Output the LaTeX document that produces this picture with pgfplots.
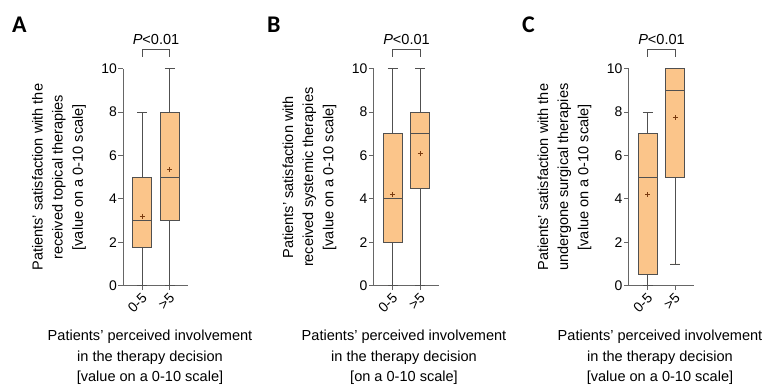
\documentclass[border=0pt]{standalone}
\usepackage{fontspec}
\setmainfont{Liberation Sans}
\newfontfamily\letterfont{Carlito}
\usepackage{pgfplots}
\usepgfplotslibrary{statistics}
\pgfplotsset{compat=1.18}
\definecolor{boxfill}{HTML}{FBC58A}
\definecolor{edge}{HTML}{505050}
\definecolor{axisgray}{HTML}{666666}
\definecolor{meanc}{HTML}{7A3B10}
\newcommand{\lblfont}{\fontsize{14.6}{20.2}\selectfont}
\pgfplotsset{
  panel/.style={
    scale only axis, width=65.2bp, height=217bp,
    xmin=0.3, xmax=2.67, ymin=0, ymax=10,
    axis x line=bottom, axis y line=left,
    axis line style={axisgray, line width=0.9bp, -},
    xtick={1,2}, xticklabels={0-5,{>5}},
    ytick={0,2,4,6,8,10},
    tick align=outside, major tick length=4.5bp,
    tick style={axisgray, line width=0.8bp},
    tick label style={font=\fontsize{14}{16}\selectfont},
    /pgf/number format/assume math mode=true,
    xticklabel style={xshift=3bp, yshift=-5bp, rotate=45, anchor=east, inner sep=1bp},
    yticklabel style={inner sep=1.5bp},
    clip=false,
    boxplot/draw direction=y,
    ylabel style={at={(axis description cs:-0.567,0.5)}, anchor=south, align=center, font=\lblfont, inner sep=0pt},
    xlabel style={anchor=north, align=center, font=\lblfont, inner sep=0pt},
  },
  bx/.style={boxplot/box extend=0.69, boxplot/whisker extend=0.36, fill=boxfill, draw=edge, line width=0.8bp},
  mn/.style={only marks, mark=+, mark size=2.3bp, meanc, line width=0.6bp},
}
\newcommand{\pval}{%
  \draw[edge, line width=0.8bp] (axis cs:1,10.54) -- (axis cs:1,10.87) -- (axis cs:2,10.87) -- (axis cs:2,10.54);
  \node[anchor=base, inner sep=0pt, font=\lblfont] at (axis cs:1.5,11.1) {\textit{P}<0.01};
}
\begin{document}
\begin{tikzpicture}
\path[use as bounding box] (0,0) rectangle (764bp,385bp);
\node[anchor=base west, inner sep=0pt, font=\letterfont\bfseries\fontsize{24}{26}\selectfont] at (12bp,352bp) {A};
\node[anchor=base west, inner sep=0pt, font=\letterfont\bfseries\fontsize{24}{26}\selectfont] at (267bp,352bp) {B};
\node[anchor=base west, inner sep=0pt, font=\letterfont\bfseries\fontsize{24}{26}\selectfont] at (522bp,352bp) {C};

% Panel A
\begin{axis}[panel, at={(123bp,99.3bp)}, anchor=south west,
  ylabel={Patients’ satisfaction with the\\received topical therapies\\{[value on a 0-10 scale]}},
  xlabel={Patients’ perceived involvement\\in the therapy decision\\{[value on a 0-10 scale]}},
  xlabel style={at={(axis description cs:0.414,-0.205)}}]
\addplot[bx, boxplot prepared={draw position=1, lower whisker=0, lower quartile=1.75, median=3, upper quartile=5, upper whisker=8}] coordinates {};
\addplot[bx, boxplot prepared={draw position=2, lower whisker=0, lower quartile=3, median=5, upper quartile=8, upper whisker=10}] coordinates {};
\addplot[mn] coordinates {(1,3.2) (2,5.35)};
\pval
\end{axis}

% Panel B
\begin{axis}[panel, at={(373.5bp,99.3bp)}, anchor=south west,
  ylabel={Patients’ satisfaction with\\received systemic therapies\\{[value on a 0-10 scale]}},
  xlabel={Patients’ perceived involvement\\in the therapy decision\\{[on a 0-10 scale]}},
  xlabel style={at={(axis description cs:0.468,-0.205)}}]
\addplot[bx, boxplot prepared={draw position=1, lower whisker=0, lower quartile=2, median=4, upper quartile=7, upper whisker=10}] coordinates {};
\addplot[bx, boxplot prepared={draw position=2, lower whisker=0, lower quartile=4.5, median=7, upper quartile=8, upper whisker=10}] coordinates {};
\addplot[mn] coordinates {(1,4.2) (2,6.1)};
\pval
\end{axis}

% Panel C
\begin{axis}[panel, at={(628.5bp,99.3bp)}, anchor=south west,
  ylabel={Patients’ satisfaction with the\\undergone surgical therapies\\{[value on a 0-10 scale]}},
  xlabel={Patients’ perceived involvement\\in the therapy decision\\{[value on a 0-10 scale]}},
  xlabel style={at={(axis description cs:0.483,-0.205)}}]
\addplot[bx, boxplot prepared={draw position=1, lower whisker=0, lower quartile=0.5, median=5, upper quartile=7, upper whisker=8}] coordinates {};
\addplot[bx, boxplot prepared={draw position=2, lower whisker=1, lower quartile=5, median=9, upper quartile=10, upper whisker=10}] coordinates {};
\addplot[mn] coordinates {(1,4.2) (2,7.75)};
\pval
\end{axis}
\end{tikzpicture}
\end{document}
